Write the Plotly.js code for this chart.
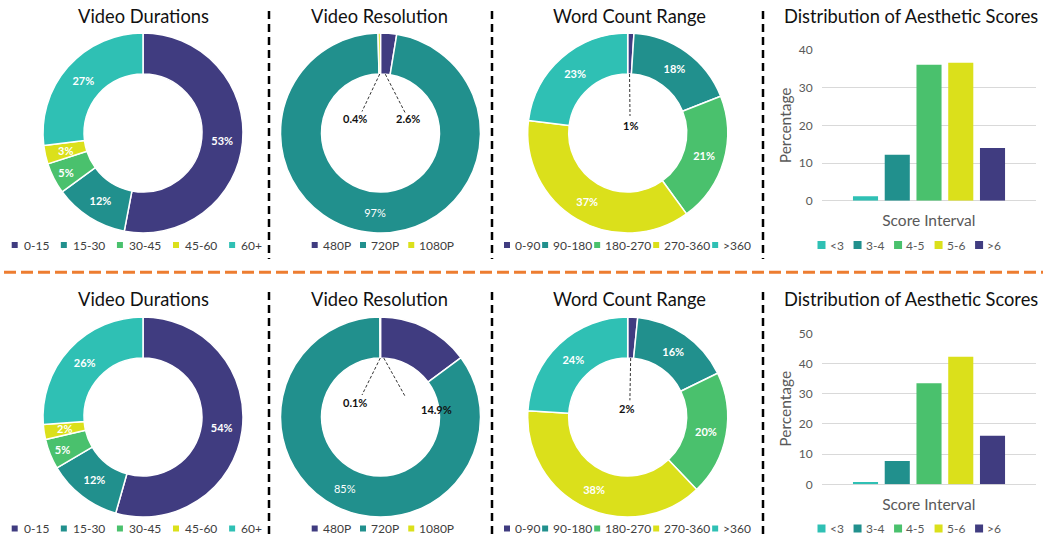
<!DOCTYPE html>
<html><head><meta charset="utf-8">
<script src="https://cdn.plot.ly/plotly-3.0.1.min.js"></script>
<style>html,body{margin:0;padding:0;background:#fff;}#chart{width:1043px;height:538px;}</style>
</head><body><div id="chart"></div>
<script>
// ---------- DATA ----------
const durationCats = ['0-15','15-30','30-45','45-60','60+'];
const durationTop = [53, 12, 5, 3, 27];
const durationBottom = [54.4, 12.1, 4.9, 2.4, 26.2];
const resolutionCats = ['480P','720P','1080P'];
const resolutionTop = [2.6, 97.0, 0.4];
const resolutionBottom = [14.9, 85.0, 0.1];
const wordCats = ['0-90','90-180','180-270','270-360','>360'];
const wordTop = [1, 18, 21, 37, 23];
const wordBottom = [1.6, 16.2, 20.1, 38.1, 24.0];
const scoreCats = ['<3','3-4','4-5','5-6','>6'];
const scoreTop = [1.2, 12.2, 36.1, 36.6, 14.0];
const scoreBottom = [0.8, 7.7, 33.5, 42.2, 16.1];
const panelTitles = ['Video Durations','Video Resolution','Word Count Range','Distribution of Aesthetic Scores'];
const yTitle = 'Percentage';
const xTitle = 'Score Interval';

// ---------- STYLE ----------
const W = 1043, H = 538;
const PURPLE='#403c80', TEAL='#21908d', GREEN='#4ac16d', YELLOW='#dbe01b', TURQ='#2fc0b4';
const fiveColors = [PURPLE, TEAL, GREEN, YELLOW, TURQ];
const resColors = [PURPLE, TEAL, YELLOW];
const scoreColors = [TURQ, TEAL, GREEN, YELLOW, PURPLE];
const FONT = 'Lato, "Open Sans", sans-serif';
const px = x => x / W;
const py = y => 1 - y / H;
const HOLE = 0.59;

const traces = [], shapes = [], annotations = [];

function donut(vals, cats, cols, cx, cy, r, opt) {
  traces.push({
    type: 'pie', values: vals, labels: cats, sort: false, direction: 'clockwise', rotation: 0,
    hole: HOLE,
    domain: {x: [px(cx - r), px(cx + r)], y: [py(cy + r), py(cy - r)]},
    marker: {colors: cols, line: {color: '#ffffff', width: 1.5}},
    texttemplate: opt.tt, textposition: opt.pos, insidetextorientation: 'horizontal',
    textfont: {family: FONT, size: 11, color: '#ffffff', weight: opt.weight || 700},
    showlegend: false, hoverinfo: 'label+percent'
  });
}

function sliceAngle(vals, idx, frac) {
  const sum = vals.reduce((a, b) => a + b, 0);
  let before = 0; for (let i = 0; i < idx; i++) before += vals[i];
  return {ang: (before + vals[idx] * frac) / sum * 2 * Math.PI, pct: vals[idx] / sum * 100};
}

// label of a thin slice drawn at full size on the ring (not shrunk)
function ringLabel(vals, idx, cx, cy, r) {
  const s = sliceAngle(vals, idx, 0.5);
  const rm = r * (1 + HOLE) / 2;
  annotations.push({xref: 'paper', yref: 'paper', x: px(cx + rm * Math.sin(s.ang)), y: py(cy - rm * Math.cos(s.ang)),
    xanchor: 'center', yanchor: 'middle', showarrow: false, text: s.pct.toFixed(0) + '%',
    font: {family: FONT, size: 11, color: '#ffffff', weight: 700}});
}

// label inside the hole with dashed leader line, text derived from the data
function holeLabel(vals, idx, cx, cy, r, frac, lab, end, decimals) {
  const s = sliceAngle(vals, idx, frac);
  const rin = r * HOLE;
  const sx = cx + rin * Math.sin(s.ang), sy = cy - rin * Math.cos(s.ang);
  const lx = cx + lab[0], ly = cy + lab[1];
  shapes.push({type: 'line', xref: 'paper', yref: 'paper', x0: px(sx), y0: py(sy), x1: px(lx + end[0]), y1: py(ly + end[1]),
    line: {color: '#333333', width: 1, dash: '3px,2px'}});
  annotations.push({xref: 'paper', yref: 'paper', x: px(lx), y: py(ly), xanchor: 'center', yanchor: 'middle', showarrow: false,
    text: s.pct.toFixed(decimals) + '%', font: {family: FONT, size: 11, color: '#111111', weight: 700}});
}

// custom compact legend (Excel style)
const measureCtx = document.createElement('canvas').getContext('2d');
function textW(t, size) { measureCtx.font = size + 'px Lato'; return measureCtx.measureText(t).width; }
function legend(cats, cols, x0, x1, yc, sq, gapSq, color, size) {
  const tw = cats.map(t => textW(t, size));
  const used = cats.length * (sq + gapSq) + tw.reduce((a, b) => a + b, 0);
  const gap = (x1 - x0 - used) / (cats.length - 1);
  let x = x0;
  cats.forEach((c, i) => {
    shapes.push({type: 'rect', xref: 'paper', yref: 'paper', x0: px(x), x1: px(x + sq), y0: py(yc + sq / 2), y1: py(yc - sq / 2),
      fillcolor: cols[i], line: {width: 0}});
    annotations.push({xref: 'paper', yref: 'paper', x: px(x + sq + gapSq), y: py(yc), xanchor: 'left', yanchor: 'middle',
      showarrow: false, text: c, borderpad: 0, font: {family: FONT, size: size, color: color}});
    x += sq + gapSq + tw[i] + gap;
  });
}

function title(t, xc, yc) {
  annotations.push({xref: 'paper', yref: 'paper', x: px(xc), y: py(yc), xanchor: 'center', yanchor: 'middle', showarrow: false,
    text: t, font: {family: FONT, size: 18.3, color: '#111111'}});
}

// ---------- ROWS ----------
const rows = [
  {dur: durationTop, res: resolutionTop, word: wordTop, score: scoreTop, tY: 16, cy: 133, legY: 245, barTop: 50, barBot: 200.7, ymax: 40,
   resLabels: [[0, 0.5, [27.5, -14.5], [-3, -6], 1], [2, 0.5, [-25.5, -14.5], [7, -7], 1]],
   wordLabel: [0.5, [2.3, -8], [0, -9]]},
  {dur: durationBottom, res: resolutionBottom, word: wordBottom, score: scoreBottom, tY: 299, cy: 417, legY: 528.5, barTop: 333.3, barBot: 484.3, ymax: 50,
   resLabels: [[0, 0.06, [56, -8], [-31, -12], 1], [2, 0.5, [-25.5, -14.5], [7, -7.5], 1]],
   wordLabel: [0.5, [-0.8, -8.7], [3, -8]]}
];

const layout = {
  width: W, height: H, margin: {l: 0, r: 0, t: 0, b: 0}, paper_bgcolor: '#ffffff', plot_bgcolor: 'rgba(0,0,0,0)',
  showlegend: false, barmode: 'overlay', font: {family: FONT},
  shapes: shapes, annotations: annotations
};

rows.forEach((row, k) => {
  const cy = row.cy, R = 100;
  // titles
  title(panelTitles[0], 143, row.tY);
  title(panelTitles[1], 379, row.tY);
  title(panelTitles[2], 629, row.tY);
  title(panelTitles[3], 911, row.tY);

  // video durations (thin 45-60 slice labelled at full size)
  donut(row.dur, durationCats, fiveColors, 143, cy, R, {tt: '%{percent:.0%}', pos: ['inside', 'inside', 'inside', 'none', 'inside']});
  ringLabel(row.dur, 3, 143, cy, R);
  // video resolution
  donut(row.res, resolutionCats, resColors, 380.5, cy, R, {tt: '%{percent:.0%}', pos: ['none', 'inside', 'none'], weight: 400});
  row.resLabels.forEach(l => holeLabel(row.res, l[0], 380.5, cy, R, l[1], l[2], l[3], l[4]));
  // word count
  donut(row.word, wordCats, fiveColors, 627.7, cy, R, {tt: '%{percent:.0%}', pos: ['none', 'inside', 'inside', 'inside', 'inside']});
  holeLabel(row.word, 0, 627.7, cy, R, row.wordLabel[0], row.wordLabel[1], row.wordLabel[2], 0);

  // bar chart
  const xa = k === 0 ? 'x' : 'x2', ya = k === 0 ? 'y' : 'y2';
  traces.push({type: 'bar', x: scoreCats, y: row.score, xaxis: xa, yaxis: ya, width: 0.79,
    marker: {color: scoreColors, line: {width: 0}}, showlegend: false, hoverinfo: 'x+y'});
  const axName = k === 0 ? '' : '2';
  layout['xaxis' + axName] = {domain: [px(821.7), px(1036)], anchor: ya, type: 'category', range: [-1.38, 5.37],
    showticklabels: false, showgrid: false, zeroline: false, showline: false, ticks: '', fixedrange: true,
    title: {text: xTitle, font: {family: FONT, size: 15.5, color: '#595959'}, standoff: 14}};
  layout['yaxis' + axName] = {domain: [py(row.barBot), py(row.barTop)], anchor: xa, range: [0, row.ymax], dtick: 10,
    showgrid: true, gridcolor: '#d9d9d9', gridwidth: 1, zeroline: true, zerolinecolor: '#d9d9d9', zerolinewidth: 1,
    showline: false, ticks: '', ticklabelstandoff: 8, tickfont: {family: FONT, size: 12, color: '#595959'},
    title: {text: yTitle, font: {family: FONT, size: 15.5, color: '#595959'}, standoff: 3}};

  // legends
  legend(durationCats, fiveColors, 11.7, 261, row.legY, 6, 5, '#404040', 12);
  legend(resolutionCats, resColors, 311.7, 453.3, row.legY, 6, 4, '#404040', 12);
  legend(wordCats, fiveColors, 504, 750, row.legY, 6, 4, '#404040', 12);
  legend(scoreCats, scoreColors, 817.5, 1000, row.legY, 8, 3, '#595959', 12);
});

// separators
[269, 492, 763].forEach(x => {
  shapes.push({type: 'line', xref: 'paper', yref: 'paper', x0: px(x), x1: px(x), y0: py(11), y1: py(259), line: {color: '#000000', width: 2.5, dash: '8px,5px'}});
  shapes.push({type: 'line', xref: 'paper', yref: 'paper', x0: px(x), x1: px(x), y0: py(292), y1: py(538), line: {color: '#000000', width: 2.5, dash: '8px,5px'}});
});
shapes.push({type: 'line', xref: 'paper', yref: 'paper', x0: px(4), x1: px(1043), y0: py(272.3), y1: py(272.3), line: {color: '#ed7d31', width: 3, dash: '12px,5px'}});

Plotly.newPlot('chart', traces, layout, {staticPlot: true, displayModeBar: false});
</script>
</body></html>
